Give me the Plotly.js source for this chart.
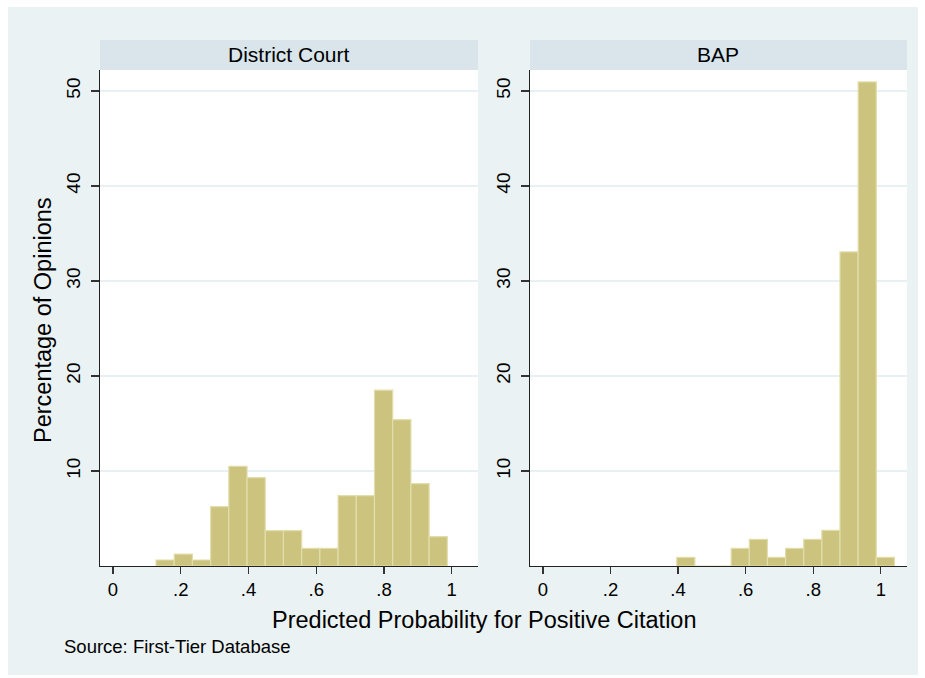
<!DOCTYPE html>
<html>
<head>
<meta charset="utf-8">
<script src="https://cdn.plot.ly/plotly-3.0.1.min.js"></script>
<style>
  html, body { margin: 0; padding: 0; background: #ffffff; }
  #chart { position: absolute; left: 8px; top: 7px; width: 910px; height: 668px; }
</style>
</head>
<body>
<div id="chart"></div>
<script>
// ---- Data ----
const panelTitles = ["District Court", "BAP"];
const xTickVals = [0, 0.2, 0.4, 0.6, 0.8, 1];
const xTickText = ["0", ".2", ".4", ".6", ".8", "1"];
const yTickVals = [10, 20, 30, 40, 50];
const yTickText = ["10", "20", "30", "40", "50"];

// District Court histogram: 16 bins
const dcBinStart = 0.127;
const dcBinWidth = 0.05375;
const dcPct = [0.63, 1.26, 0.63, 6.25, 10.5, 9.3, 3.72, 3.72, 1.86, 1.86, 7.4, 7.4, 18.5, 15.4, 8.67, 3.09];

// BAP histogram: 12 bins
const bapBinStart = 0.396;
const bapBinWidth = 0.0537;
const bapPct = [0.91, 0, 0, 1.86, 2.8, 0.91, 1.86, 2.8, 3.75, 33.05, 50.95, 0.91];

const xTitle = "Predicted Probability for Positive Citation";
const yTitle = "Percentage of Opinions";
const sourceNote = "Source: First-Tier Database";

// ---- Build traces ----
function centers(start, width, n) {
  const out = [];
  for (let i = 0; i < n; i++) out.push(start + (i + 0.5) * width);
  return out;
}

const barFill = "rgb(203,195,126)";
const barEdge = "rgb(226,222,172)";
const FONT = "Liberation Sans, Arial, Helvetica, sans-serif";

const traces = [
  {
    type: "bar",
    x: centers(dcBinStart, dcBinWidth, dcPct.length),
    y: dcPct,
    width: dcBinWidth,
    marker: { color: barFill, line: { color: barEdge, width: 1.2 } },
    xaxis: "x", yaxis: "y",
    showlegend: false, hoverinfo: "skip"
  },
  {
    type: "bar",
    x: centers(bapBinStart, bapBinWidth, bapPct.length),
    y: bapPct,
    width: bapBinWidth,
    marker: { color: barFill, line: { color: barEdge, width: 1.2 } },
    xaxis: "x2", yaxis: "y2",
    showlegend: false, hoverinfo: "skip"
  }
];

const xRange = [-0.0384, 1.0776];
const yRange = [0, 52.2];

function xAxis(domain, anchor) {
  return {
    domain: domain, anchor: anchor, range: xRange,
    tickvals: xTickVals, ticktext: xTickText,
    ticks: "outside", ticklen: 7, tickwidth: 1.2, tickcolor: "#333",
    showline: true, linecolor: "#222", linewidth: 1.2,
    showgrid: false, zeroline: false, fixedrange: true,
    tickfont: { family: FONT, size: 18.5, color: "#000" }
  };
}
function yAxis(anchor) {
  return {
    domain: [0, 1], anchor: anchor, range: yRange,
    tickvals: yTickVals, ticktext: yTickText, tickangle: -90,
    ticks: "outside", ticklen: 8, tickwidth: 1.2, tickcolor: "#333",
    ticklabelstandoff: 3,
    showline: true, linecolor: "#222", linewidth: 1.2,
    showgrid: true, gridcolor: "#e9f0f3", gridwidth: 1.5,
    zeroline: false, fixedrange: true,
    tickfont: { family: FONT, size: 19, color: "#000" }
  };
}

const stripH = 30 / 496;
const shapes = [];
const annotations = [];
["x", "x2"].forEach(function (xa, i) {
  const ya = i === 0 ? "y" : "y2";
  shapes.push({
    type: "rect", xref: xa + " domain", yref: ya + " domain",
    x0: 0, x1: 1, y0: 1, y1: 1 + stripH,
    fillcolor: "#d9e5eb", line: { width: 0 }, layer: "below"
  });
  annotations.push({
    text: panelTitles[i], xref: xa + " domain", yref: ya + " domain",
    x: 0.5, y: 1 + stripH / 2, xanchor: "center", yanchor: "middle",
    showarrow: false, font: { family: FONT, size: 21, color: "#000" }
  });
});

annotations.push({
  text: xTitle, xref: "paper", yref: "paper",
  x: 0.477, y: -0.109, xanchor: "center", yanchor: "middle",
  showarrow: false, font: { family: FONT, size: 23.5, color: "#000" }
});
annotations.push({
  text: yTitle, xref: "paper", yref: "paper", textangle: -90,
  x: -0.0706, y: 0.496, xanchor: "center", yanchor: "middle",
  showarrow: false, font: { family: FONT, size: 23.5, color: "#000" }
});
annotations.push({
  text: sourceNote, xref: "paper", yref: "paper",
  x: (54 - 92) / 807, y: -0.163, xanchor: "left", yanchor: "middle",
  showarrow: false, font: { family: FONT, size: 18.5, color: "#000" }
});

const layout = {
  width: 910, height: 668,
  margin: { l: 92, r: 11, t: 63, b: 109, pad: 0 },
  paper_bgcolor: "#eaf2f3",
  plot_bgcolor: "#ffffff",
  bargap: 0,
  xaxis: xAxis([0, 0.4684], "y"),
  yaxis: yAxis("x"),
  xaxis2: xAxis([0.5328, 1], "y2"),
  yaxis2: yAxis("x2"),
  shapes: shapes,
  annotations: annotations,
  font: { family: FONT, color: "#000" }
};

Plotly.newPlot("chart", traces, layout, { displayModeBar: false, staticPlot: true });
</script>
</body>
</html>
